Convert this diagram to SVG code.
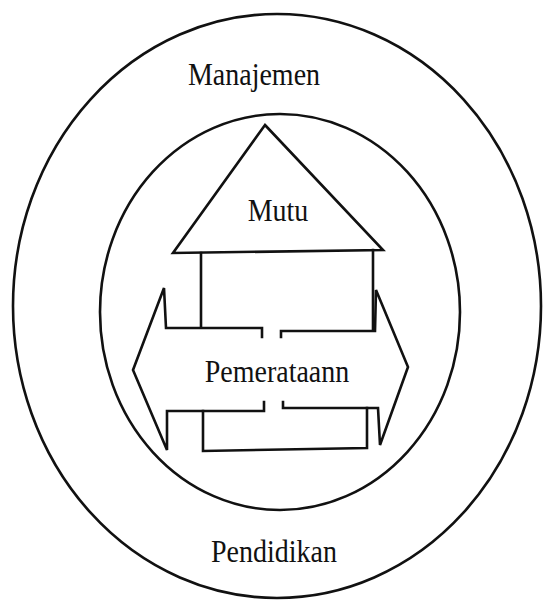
<svg xmlns="http://www.w3.org/2000/svg" width="544" height="606" viewBox="0 0 544 606">
<style>
.ln{fill:none;stroke:#111;stroke-width:2.6;stroke-linejoin:miter;stroke-linecap:square}
.lbl{font-family:"Liberation Serif","Times New Roman",serif;font-size:28px;fill:#111;text-anchor:middle}
</style>
<rect width="544" height="606" fill="#fff"/>
<g id="outer-ring">
<ellipse class="ln" cx="277" cy="306" rx="264" ry="292"/>
<text class="lbl" transform="translate(254,85) scale(1,1.12)">Manajemen</text>
<text class="lbl" transform="translate(274,562) scale(1,1.12)">Pendidikan</text>
</g>
<g id="inner-ring">
<ellipse class="ln" cx="280" cy="312" rx="180" ry="198"/>
</g>
<g id="mutu">
<polygon class="ln" points="265,125 383,250 173,253"/>
<path class="ln" d="M201,253 V327 M373,250 V329"/>
<text class="lbl" transform="translate(278,221) scale(1,1.12)">Mutu</text>
</g>
<g id="pemerataan">
<path class="ln" d="M262,337 V328 H166 L164,288 L133,370 L167,450 L167,411 H264 V402"/>
<path class="ln" d="M281,337 V331 H375 L376,290 L408,367 L380,445 L378,408 H283 V402"/>
<path class="ln" d="M203,411 V451 L367,448 V408"/>
<text class="lbl" transform="translate(277,382) scale(1,1.12)">Pemerataann</text>
</g>
<g id="connectors"/>
</svg>
